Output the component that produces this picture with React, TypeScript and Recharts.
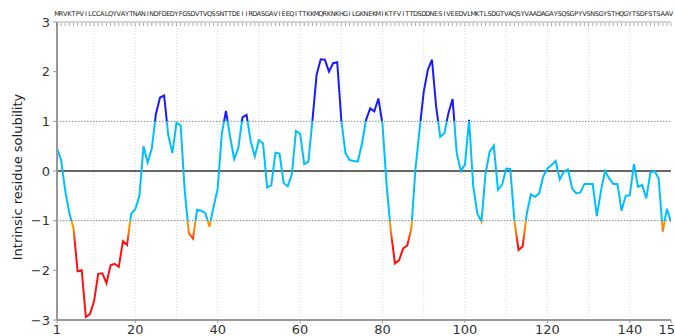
import React from 'react';
import { LineChart, Line, XAxis, YAxis, ReferenceLine } from 'recharts';

// protein sequence, one letter per residue (top axis)
const sequence =
  'MRVKTPVILCCALQYVAYTNANINDFDEDYFGSDVTVQSSNTTDEIIRDASGAVIEEQITTKKMQRKNKHGILGKNEKMIKTFVITTDSDDNESIVEEDVLMKTLSDGTVAQSYVAADAGAYSQSGPYVSNSGYSTHQGYTSDFSTSAAV';

// intrinsic solubility score per residue
const solubility = [
  0.45, 0.22, -0.4, -0.85, -1.15, -2.02, -2.0, -2.94, -2.88, -2.62,
  -2.07, -2.06, -2.26, -1.9, -1.87, -1.93, -1.41, -1.49, -0.86, -0.77,
  -0.5, 0.5, 0.17, 0.45, 1.15, 1.48, 1.52, 0.72, 0.36, 0.97,
  0.92, -0.4, -1.25, -1.36, -0.78, -0.8, -0.85, -1.12, -0.72, -0.35,
  0.75, 1.21, 0.69, 0.24, 0.46, 1.08, 1.13, 0.6, 0.29, 0.62,
  0.56, -0.33, -0.29, 0.37, 0.35, -0.24, -0.31, -0.06, 0.81, 0.75,
  0.14, 0.19, 1.03, 1.94, 2.25, 2.24, 2.0, 2.17, 2.19, 1.02,
  0.36, 0.22, 0.2, 0.19, 0.55, 1.03, 1.26, 1.2, 1.46, 0.93,
  -0.3, -1.2, -1.86, -1.8, -1.56, -1.5, -1.15, 0.05, 0.85, 1.6,
  2.04, 2.24, 1.3, 0.69, 0.76, 1.17, 1.45, 0.36, 0.0, 0.13,
  1.03, -0.3, -0.86, -1.02, -0.05, 0.39, 0.51, -0.38, -0.28, 0.05,
  0.04, -1.0, -1.59, -1.52, -0.86, -0.47, -0.52, -0.45, -0.11, 0.05,
  0.12, 0.2, -0.17, -0.01, 0.03, -0.35, -0.45, -0.43, -0.26, -0.26,
  -0.26, -0.91, -0.4, 0.0, -0.15, -0.26, -0.26, -0.8, -0.5, -0.49,
  0.14, -0.32, -0.28, -0.55, -0.03, 0.0, -0.15, -1.22, -0.76, -1.03,
];

const xTicks = [1, 20, 40, 60, 80, 100, 120, 140, 150];
const xGrid = [10, 20, 30, 40, 50, 60, 70, 80, 90, 100, 110, 120, 130, 140];
const yTicks = [-3, -2, -1, 0, 1, 2, 3];

const data = solubility.map((v, i) => ({ pos: i + 1, aa: sequence[i], v }));
const residueTicks = data.map((d) => d.pos);

const font = 'DejaVu Sans';

// colour bands follow the value: blue > 1, cyan in [-1, 1], orange then red below -1
const vMax = Math.max(...solubility);
const vMin = Math.min(...solubility);
const off = (v: number) => `${(((vMax - v) / (vMax - vMin)) * 100).toFixed(2)}%`;

const SeqTick = (props: any) => {
  const { x, y, payload } = props;
  const letter = sequence[payload.value - 1] || '';
  return (
    <g>
      <line x1={x} x2={x} y1={y + 1} y2={y + 4} stroke="#777" strokeWidth={0.6} />
      <text x={x} y={y - 6} textAnchor="middle" fontSize={6.5} fontFamily={font} fill="#222">
        {letter}
      </text>
    </g>
  );
};

const fmt = (v: number) => String(v).replace('-', '\u2212');

export default function App() {
  return (
    <div style={{ position: 'absolute', left: 0, top: 0, background: '#fff' }}>
      <LineChart width={675} height={336} data={data} margin={{ top: 0, right: 4, bottom: 0, left: 0 }}>
        <defs>
          <linearGradient id="solGrad" x1="0" y1="0" x2="0" y2="1">
            <stop offset="0%" stopColor="#1a1aff" />
            <stop offset={off(1)} stopColor="#1a1aff" />
            <stop offset={off(1)} stopColor="#00bfff" />
            <stop offset={off(-1)} stopColor="#00bfff" />
            <stop offset={off(-1)} stopColor="#ff9a00" />
            <stop offset={off(-1.2)} stopColor="#ff8000" />
            <stop offset={off(-1.45)} stopColor="#ff1010" />
            <stop offset="100%" stopColor="#ff1010" />
          </linearGradient>
        </defs>
        <XAxis
          xAxisId="bottom"
          dataKey="pos"
          type="number"
          domain={[1, 150]}
          ticks={xTicks}
          interval={0}
          height={16}
          allowDataOverflow
          axisLine={{ stroke: '#999', strokeWidth: 2 }}
          tickLine={{ stroke: '#999' }}
          tickSize={3}
          tickMargin={2}
          tick={{ fontSize: 13, fontFamily: font, fill: '#333' }}
        />
        <XAxis
          xAxisId="top"
          orientation="top"
          dataKey="pos"
          type="number"
          domain={[1, 150]}
          ticks={residueTicks}
          interval={0}
          height={22}
          axisLine={{ stroke: '#aaa', strokeWidth: 1 }}
          tickLine={false}
          tickSize={0}
          tickMargin={0}
          tick={<SeqTick />}
        />
        <YAxis
          yAxisId="left"
          type="number"
          domain={[-3, 3]}
          ticks={yTicks}
          interval={0}
          width={57}
          axisLine={{ stroke: '#999', strokeWidth: 2 }}
          tickLine={{ stroke: '#999' }}
          tickSize={4}
          tickMargin={3}
          tickFormatter={fmt}
          tick={{ fontSize: 13, fontFamily: font, fill: '#333' }}
          label={{
            value: 'Intrinsic residue solubility',
            angle: -90,
            position: 'insideLeft',
            offset: 17,
            dy: 6,
            style: { textAnchor: 'middle', fontSize: 13, fontFamily: font, fill: '#222' },
          }}
        />
        <YAxis
          yAxisId="right"
          orientation="right"
          type="number"
          domain={[-3, 3]}
          width={0}
          tick={false}
          tickLine={false}
          axisLine={{ stroke: '#999', strokeWidth: 1.5 }}
        />
        {xGrid.map((g) => (
          <ReferenceLine
            key={g}
            xAxisId="bottom"
            yAxisId="left"
            x={g}
            stroke="#d8d8d8"
            strokeDasharray="1 2"
            strokeWidth={1}
          />
        ))}
        <ReferenceLine xAxisId="bottom" yAxisId="left" y={1} stroke="#888" strokeDasharray="1.5 1.5" strokeWidth={1} />
        <ReferenceLine xAxisId="bottom" yAxisId="left" y={-1} stroke="#888" strokeDasharray="1.5 1.5" strokeWidth={1} />
        <ReferenceLine xAxisId="bottom" yAxisId="left" y={0} stroke="#666" strokeWidth={2} />
        <Line
          xAxisId="bottom"
          yAxisId="left"
          type="linear"
          dataKey="v"
          stroke="url(#solGrad)"
          strokeWidth={2}
          dot={false}
          isAnimationActive={false}
        />
      </LineChart>
    </div>
  );
}
